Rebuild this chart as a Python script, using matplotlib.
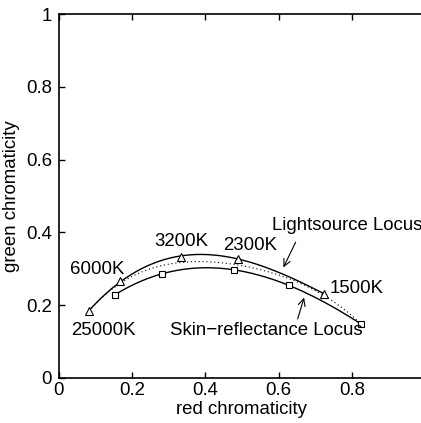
import numpy as np
import matplotlib
matplotlib.use("Agg")
import matplotlib.pyplot as plt

plt.rcParams['font.family'] = ['Liberation Sans', 'DejaVu Sans']

# Lightsource locus (triangles)
light_r = [0.082, 0.167, 0.333, 0.490, 0.725]
light_g = [0.184, 0.266, 0.333, 0.328, 0.231]
light_labels = ["25000K", "6000K", "3200K", "2300K", "1500K"]

# Skin-reflectance locus (squares)
skin_r = [0.154, 0.281, 0.477, 0.629, 0.824]
skin_g = [0.229, 0.287, 0.296, 0.255, 0.149]

# Dotted curve
dot_r = [0.082, 0.185, 0.285, 0.358, 0.449, 0.577, 0.725, 0.824]
dot_g = [0.184, 0.272, 0.306, 0.322, 0.318, 0.287, 0.228, 0.149]

x_ticks = [0, 0.2, 0.4, 0.6, 0.8, 1.0]
y_ticks = [0, 0.2, 0.4, 0.6, 0.8, 1.0]
x_ticklabels = ["0", "0.2", "0.4", "0.6", "0.8", ""]
y_ticklabels = ["0", "0.2", "0.4", "0.6", "0.8", "1"]

fig = plt.figure(figsize=(4.21, 4.23), dpi=100)
ax = fig.add_axes([0.140, 0.1064, 0.8694, 0.8605])
FS = 13.4

def smooth(xs, ys, deg):
    c = np.polyfit(xs, ys, deg)
    xx = np.linspace(min(xs), max(xs), 200)
    return xx, np.polyval(c, xx)

xx, yy = smooth(light_r, light_g, 3)
ax.plot(xx, yy, color='black', lw=1.0)
xx, yy = smooth(skin_r, skin_g, 3)
ax.plot(xx, yy, color='black', lw=1.0)
xx, yy = smooth(dot_r, dot_g, 4)
ax.plot(xx, yy, color='black', lw=0.8, linestyle=(0, (1, 2.5)))

ax.plot(light_r, light_g, linestyle='none', marker='^', markersize=6,
        markerfacecolor='white', markeredgecolor='black', markeredgewidth=0.8)
ax.plot(skin_r, skin_g, linestyle='none', marker='s', markersize=4.5,
        markerfacecolor='white', markeredgecolor='black', markeredgewidth=0.8)

# Temperature labels
label_pos = [(0.032, 0.130), (0.030, 0.297), (0.260, 0.374), (0.449, 0.363), (0.740, 0.246)]
for lab, (px, py) in zip(light_labels, label_pos):
    ax.text(px, py, lab, fontsize=FS, ha='left', va='center')

ax.text(0.582, 0.418, "Lightsource Locus", fontsize=FS, ha='left', va='center', clip_on=False)
ax.annotate("", xy=(0.610, 0.297), xytext=(0.650, 0.380),
            arrowprops=dict(arrowstyle='->,head_length=0.5,head_width=0.25', lw=0.8, color='black'))
ax.text(0.303, 0.131, "Skin\u2212reflectance Locus", fontsize=FS, ha='left', va='center')
ax.annotate("", xy=(0.672, 0.228), xytext=(0.650, 0.155),
            arrowprops=dict(arrowstyle='->,head_length=0.5,head_width=0.25', lw=0.8, color='black'))

ax.set_xlim(0, 1)
ax.set_ylim(0, 1)
ax.set_xticks(x_ticks)
ax.set_xticklabels(x_ticklabels)
ax.set_yticks(y_ticks)
ax.set_yticklabels(y_ticklabels)
ax.tick_params(direction='in', length=4, width=1, labelsize=FS, top=True, right=False)
ax.tick_params(axis='x', pad=3)
ax.tick_params(axis='y', pad=5)
for s in ax.spines.values():
    s.set_linewidth(1.2)
ax.set_xlabel("red chromaticity", fontsize=FS, labelpad=1)
ax.set_ylabel("green chromaticity", fontsize=FS, labelpad=4)

fig.savefig("out.png", dpi=100)
